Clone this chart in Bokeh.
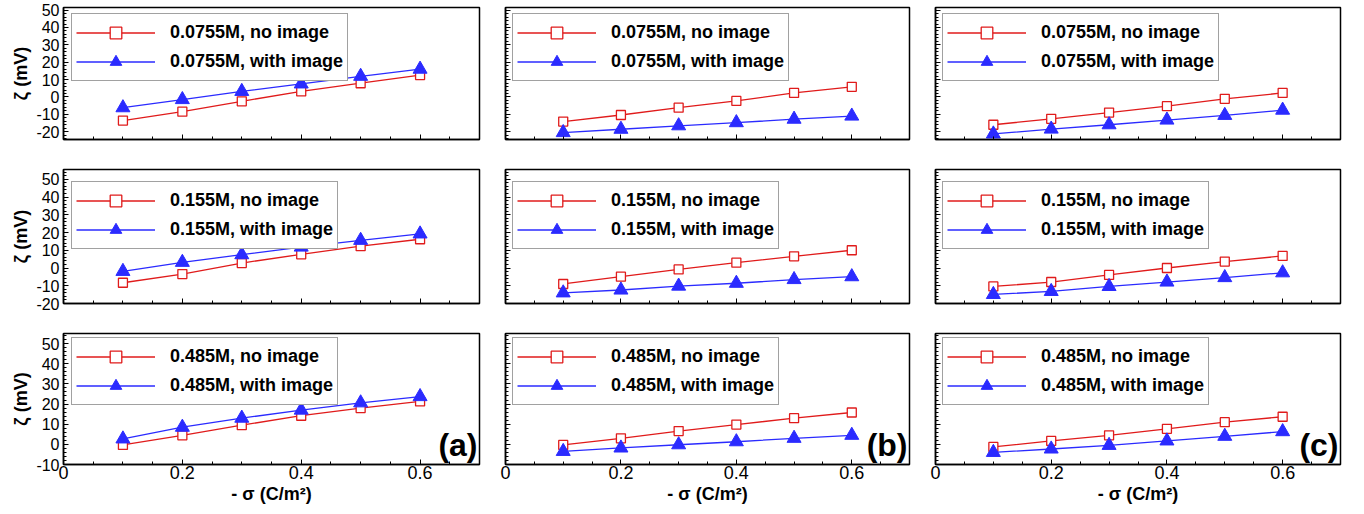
from bokeh.plotting import figure
from bokeh.layouts import row, column
from bokeh.models import (Range1d, SingleIntervalTicker, CustomJSTickFormatter,
                          Legend, LegendItem, Label)
from bokeh.embed import file_html
from bokeh.resources import INLINE

# ---------------- data ----------------
sigma = [0.1, 0.2, 0.3, 0.4, 0.5, 0.6]
concentrations = ["0.0755M", "0.155M", "0.485M"]
panel_tags = ["(a)", "(b)", "(c)"]

# panel (a)
a_0755_no = [-13.6, -8.5, -2.5, 3.2, 7.9, 12.6]
a_0755_img = [-6.2, -1.5, 3.2, 7.5, 11.9, 16.0]
a_155_no = [-8.3, -3.4, 2.8, 7.7, 12.3, 16.2]
a_155_img = [-1.9, 3.2, 7.5, 11.8, 15.6, 19.2]
a_485_no = [-0.3, 4.5, 9.5, 14.2, 18.0, 21.3]
a_485_img = [2.7, 8.5, 13.0, 17.0, 20.6, 23.7]
# panel (b)
b_0755_no = [-14.2, -10.4, -6.2, -2.3, 2.3, 5.8]
b_0755_img = [-20.5, -18.6, -16.6, -14.8, -12.8, -11.0]
b_155_no = [-9.0, -4.9, -0.8, 3.0, 6.6, 10.0]
b_155_img = [-14.0, -12.4, -10.2, -8.6, -6.5, -4.9]
b_485_no = [-0.3, 3.0, 6.6, 9.8, 13.0, 15.8]
b_485_img = [-3.5, -1.8, -0.2, 1.3, 3.0, 4.5]
# panel (c)
c_0755_no = [-16.0, -12.6, -9.0, -5.3, -1.1, 2.3]
c_0755_img = [-21.3, -18.5, -16.0, -13.3, -10.6, -7.6]
c_155_no = [-10.4, -7.9, -3.9, 0.0, 3.6, 6.8]
c_155_img = [-14.9, -13.2, -10.4, -7.9, -5.4, -2.7]
c_485_no = [-1.3, 1.7, 4.5, 7.7, 11.0, 13.7]
c_485_img = [-4.0, -2.3, -0.5, 1.7, 4.0, 6.3]

no_image = [[a_0755_no, b_0755_no, c_0755_no],
            [a_155_no, b_155_no, c_155_no],
            [a_485_no, b_485_no, c_485_no]]
with_image = [[a_0755_img, b_0755_img, c_0755_img],
              [a_155_img, b_155_img, c_155_img],
              [a_485_img, b_485_img, c_485_img]]

y_ranges = [(-24.5, 51.5), (-20, 55.5), (-10, 55)]
x_range = (0, 0.7)

# ---------------- style ----------------
FONT = "Liberation Sans"
RED = "#e01b1b"
BLUE = "#2b2bff"

frame_w = [416, 404, 405]
frame_h = [132, 134, 131]
mb_left = [63, 13, 13]
mb_right = [13, 13, 8]
mb_top = [7, 14, 15]
mb_bottom = [16, 15, 46]
legend_top_off = [8, 14, 6]
legend_left_off = [8, 7, 7]
LEG_PAD = 4
LEG_ROW = 29
LEG_H = 2 * LEG_PAD + 2 * LEG_ROW

x_fmt = CustomJSTickFormatter(code="return Math.abs(tick) < 1e-9 ? '0' : tick.toFixed(1);")
y_fmt = CustomJSTickFormatter(code="return Math.abs(tick) < 1e-9 ? '0' : tick.toFixed(0);")


def make_panel(ri, ci):
    p = figure(width=mb_left[ci] + frame_w[ci] + mb_right[ci],
               height=mb_top[ri] + frame_h[ri] + mb_bottom[ri],
               min_border_left=mb_left[ci], min_border_right=mb_right[ci],
               min_border_top=mb_top[ri], min_border_bottom=mb_bottom[ri],
               x_range=Range1d(*x_range), y_range=Range1d(*y_ranges[ri]),
               output_backend="svg", toolbar_location=None,
               background_fill_color="white", border_fill_color="white")
    p.xgrid.visible = False
    p.ygrid.visible = False
    p.outline_line_color = "black"
    p.outline_line_width = 1.5

    p.xaxis.ticker = SingleIntervalTicker(interval=0.2, num_minor_ticks=4)
    p.yaxis.ticker = SingleIntervalTicker(interval=10, num_minor_ticks=5)
    for ax in (p.xaxis[0], p.yaxis[0]):
        ax.major_tick_in = 5
        ax.major_tick_out = 0
        ax.minor_tick_in = 3
        ax.minor_tick_out = 0
        ax.axis_line_width = 1.5
        ax.axis_line_color = "black"
        ax.major_tick_line_color = "black"
        ax.minor_tick_line_color = "black"
        ax.major_label_text_font = FONT
        ax.major_label_text_color = "black"
        ax.axis_label_text_font = FONT
        ax.axis_label_text_font_style = "bold"
        ax.axis_label_text_color = "black"

    # y axis
    if ci == 0:
        p.yaxis.formatter = y_fmt
        p.yaxis.major_label_text_font_size = "16px"
        p.yaxis.major_label_standoff = 4
        p.yaxis.axis_label = "ζ (mV)"
        p.yaxis.axis_label_text_font_size = "18px"
        p.yaxis.axis_label_standoff = 2
    else:
        p.yaxis.formatter = CustomJSTickFormatter(code="return '';")
        p.yaxis.major_label_text_font_size = "0px"
        p.yaxis.major_label_standoff = 0

    # x axis
    if ri == 2:
        p.xaxis.formatter = x_fmt
        p.xaxis.major_label_text_font_size = "18px"
        p.xaxis.major_label_standoff = 1
        p.xaxis.axis_label = "- σ (C/m²)"
        p.xaxis.axis_label_text_font_size = "18px"
        p.xaxis.axis_label_standoff = 2
    else:
        p.xaxis.formatter = CustomJSTickFormatter(code="return '';")
        p.xaxis.major_label_text_font_size = "0px"
        p.xaxis.major_label_standoff = 0

    no = no_image[ri][ci]
    img = with_image[ri][ci]
    r1 = p.line(sigma, no, line_color=RED, line_width=1.3)
    r2 = p.scatter(sigma, no, marker="square", size=9, fill_color="white",
                   line_color=RED, line_width=1.3)
    r3 = p.line(sigma, img, line_color=BLUE, line_width=1.3)
    r4 = p.scatter(sigma, img, marker="triangle", size=14, fill_color=BLUE,
                   line_color=BLUE, line_width=1)

    conc = concentrations[ri]
    leg = Legend(items=[LegendItem(label=f"{conc}, no image", renderers=[r1, r2]),
                        LegendItem(label=f"{conc}, with image", renderers=[r3, r4])],
                 location=(legend_left_off[ci], frame_h[ri] - legend_top_off[ri] - LEG_H),
                 orientation="vertical")
    leg.margin = 0
    leg.padding = LEG_PAD
    leg.spacing = 0
    leg.glyph_width = 79
    leg.glyph_height = LEG_ROW
    leg.label_height = LEG_ROW
    leg.label_standoff = 15
    leg.label_text_font = FONT
    leg.label_text_font_style = "bold"
    leg.label_text_font_size = "18px"
    leg.label_text_color = "black"
    leg.border_line_color = "#444444"
    leg.border_line_width = 1.5
    leg.background_fill_color = "white"
    leg.background_fill_alpha = 1.0
    p.add_layout(leg)

    if ri == 2:
        lab = Label(x=x_range[1], y=y_ranges[ri][0], x_offset=-2, y_offset=2,
                    text=panel_tags[ci], text_align="right", text_baseline="bottom",
                    text_font=FONT, text_font_style="bold", text_font_size="32px",
                    text_color="black")
        p.add_layout(lab)
    return p


rows = []
for ri in range(3):
    rows.append(row(*[make_panel(ri, ci) for ci in range(3)]))
layout = column(*rows)

open("out.html", "w").write(file_html(layout, INLINE))
